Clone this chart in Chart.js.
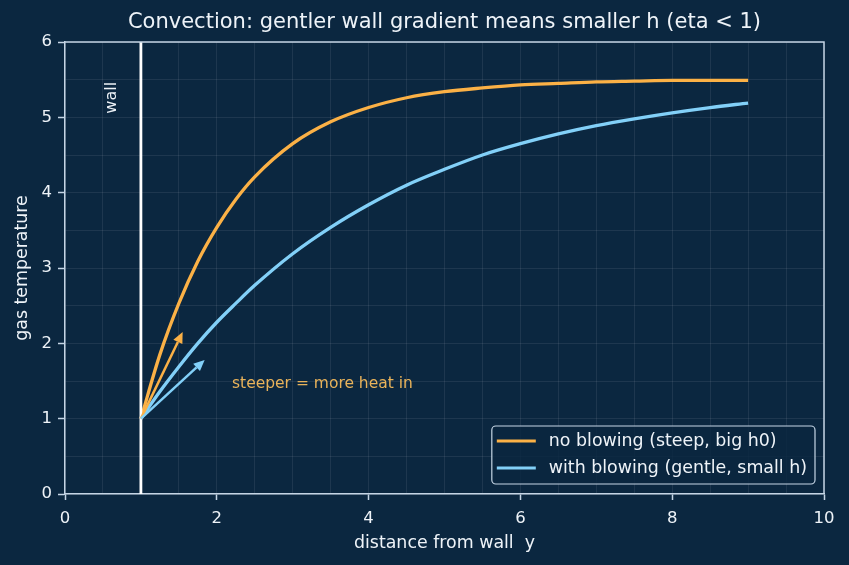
<!DOCTYPE html>
<html>
<head>
<meta charset="utf-8">
<script src="https://cdn.jsdelivr.net/npm/chart.js@4.4.1/dist/chart.umd.min.js"></script>
<style>
  html, body { margin: 0; padding: 0; background: #0b2740; }
  #wrap { width: 849px; height: 565px; }
</style>
</head>
<body>
<div id="wrap"><canvas id="chart" width="849" height="565"></canvas></div>
<script>
"use strict";

// Values.
const distance = [1, 1.25, 1.5, 1.75, 2, 2.25, 2.5, 3, 3.5, 4, 4.5, 5, 5.5, 6, 6.5, 7, 7.5, 8, 8.5, 9];
const noBlowing = [1.00, 1.85, 2.53, 3.09, 3.54, 3.91, 4.21, 4.65, 4.94, 5.13, 5.26, 5.34, 5.39, 5.43, 5.45, 5.47, 5.48, 5.49, 5.49, 5.49];
const withBlowing = [1.00, 1.36, 1.69, 2.00, 2.28, 2.53, 2.77, 3.19, 3.54, 3.84, 4.10, 4.31, 4.50, 4.65, 4.78, 4.89, 4.98, 5.06, 5.13, 5.19];
const wallX = [1, 1];
const wallY = [0, 6];
const arrowStart = [1, 1];
const arrowTipSteep = [1.55, 2.15];
const arrowTipGentle = [1.84, 1.78];
const xTickLabels = [0, 2, 4, 6, 8, 10];
const yTickLabels = [0, 1, 2, 3, 4, 5, 6];

const TITLE = "Convection: gentler wall gradient means smaller h (eta < 1)";
const BG = "#0b2740";
const ORANGE = "#fbb146";
const BLUE = "#82d0f8";
const SPINE = "#c5d5e5";
const TEXT = "#eef3f8";
const GRID = "rgba(255,255,255,0.08)";
const FONT = "'DejaVu Sans', sans-serif";
const LABEL_PX = 17.4;

const toPts = (xs, ys) => xs.map((x, i) => ({ x, y: ys[i] }));

// Подложка, рамка, заголовок, стрелки, подписи и легенда.
const decor = {
  id: "decor",
  beforeDraw(chart) {
    const ctx = chart.ctx;
    ctx.save();
    ctx.fillStyle = BG;
    ctx.fillRect(0, 0, chart.width, chart.height);
    ctx.restore();
  },
  afterDatasetsDraw(chart) {
    const { ctx, chartArea: a, scales: { x, y } } = chart;
    ctx.save();

    // arrows from the wall point
    const drawArrow = (tip, color) => {
      const x0 = x.getPixelForValue(arrowStart[0]), y0 = y.getPixelForValue(arrowStart[1]);
      const x1 = x.getPixelForValue(tip[0]), y1 = y.getPixelForValue(tip[1]);
      const ang = Math.atan2(y1 - y0, x1 - x0);
      const head = 11, half = 5;
      const bx = x1 - head * Math.cos(ang), by = y1 - head * Math.sin(ang);
      ctx.strokeStyle = color;
      ctx.fillStyle = color;
      ctx.lineWidth = 2.5;
      ctx.beginPath();
      ctx.moveTo(x0, y0);
      ctx.lineTo(bx, by);
      ctx.stroke();
      ctx.beginPath();
      ctx.moveTo(x1, y1);
      ctx.lineTo(bx + half * Math.sin(ang), by - half * Math.cos(ang));
      ctx.lineTo(bx - half * Math.sin(ang), by + half * Math.cos(ang));
      ctx.closePath();
      ctx.fill();
    };
    drawArrow(arrowTipSteep, ORANGE);
    drawArrow(arrowTipGentle, BLUE);

    // annotation text
    ctx.font = "15.5px " + FONT;
    ctx.fillStyle = "#e9b35a";
    ctx.textAlign = "left";
    ctx.textBaseline = "middle";
    ctx.fillText("steeper = more heat in", x.getPixelForValue(2.2), y.getPixelForValue(1.46));

    // "wall" label, rotated
    ctx.save();
    ctx.font = "16px " + FONT;
    ctx.translate(x.getPixelForValue(0.62), y.getPixelForValue(5.26));
    ctx.rotate(-Math.PI / 2);
    ctx.fillStyle = TEXT;
    ctx.textAlign = "center";
    ctx.fillText("wall", 0, 0);
    ctx.restore();

    // top & right spines
    ctx.strokeStyle = SPINE;
    ctx.lineWidth = 1.5;
    ctx.beginPath();
    ctx.moveTo(a.left, a.top);
    ctx.lineTo(a.right, a.top);
    ctx.lineTo(a.right, a.bottom);
    ctx.stroke();

    // title centred over the plot area
    ctx.font = "21px " + FONT;
    ctx.fillStyle = TEXT;
    ctx.textAlign = "center";
    ctx.textBaseline = "middle";
    ctx.fillText(TITLE, (a.left + a.right) / 2, 23);

    // legend box in lower right
    const items = chart.data.datasets.filter((d) => d.label);
    ctx.font = LABEL_PX + "px " + FONT;
    const textW = Math.max(...items.map((d) => ctx.measureText(d.label).width));
    const rowH = 27;
    const w = 5 + 39 + 13 + textW + 8;
    const h = items.length * rowH + 4;
    const bx = a.right - 9 - w, by = a.bottom - 10 - h;
    ctx.fillStyle = "rgba(11,39,64,0.85)";
    ctx.strokeStyle = SPINE;
    ctx.lineWidth = 1.2;
    ctx.beginPath();
    ctx.roundRect(bx, by, w, h, 4);
    ctx.fill();
    ctx.stroke();
    items.forEach((d, i) => {
      const cy = by + 15 + i * rowH;
      ctx.strokeStyle = d.borderColor;
      ctx.lineWidth = 3;
      ctx.beginPath();
      ctx.moveTo(bx + 5, cy);
      ctx.lineTo(bx + 44, cy);
      ctx.stroke();
      ctx.fillStyle = TEXT;
      ctx.textAlign = "left";
      ctx.textBaseline = "middle";
      ctx.fillText(d.label, bx + 57, cy);
    });
    ctx.restore();
  },
};

const isLabel = (v, list) => list.some((t) => Math.abs(t - v) < 1e-9);

new Chart(document.getElementById("chart"), {
  type: "line",
  data: {
    datasets: [
      {
        data: toPts(wallX, wallY),
        borderColor: "#ffffff",
        borderWidth: 2.8,
        pointRadius: 0,
        tension: 0,
      },
      {
        label: "no blowing (steep, big h0)",
        data: toPts(distance, noBlowing),
        borderColor: ORANGE,
        borderWidth: 3.3,
        pointRadius: 0,
        cubicInterpolationMode: "monotone",
      },
      {
        label: "with blowing (gentle, small h)",
        data: toPts(distance, withBlowing),
        borderColor: BLUE,
        borderWidth: 3.3,
        pointRadius: 0,
        cubicInterpolationMode: "monotone",
      },
    ],
  },
  options: {
    responsive: false,
    animation: false,
    devicePixelRatio: 1,
    layout: { padding: { top: 42, right: 25, left: 0, bottom: 0 } },
    plugins: { legend: { display: false }, title: { display: false }, tooltip: { enabled: false } },
    scales: {
      x: {
        type: "linear",
        min: 0, max: 10,
        afterFit: (s) => { s.height = 71; },
        ticks: {
          stepSize: 0.5,
          autoSkip: false,
          maxRotation: 0,
          color: TEXT,
          padding: 9,
          font: { family: FONT, size: 16.5 },
          callback: (v) => (isLabel(v, xTickLabels) ? String(v) : ""),
        },
        grid: {
          color: GRID,
          tickLength: 6,
          tickWidth: 1.5,
          tickColor: (c) => (isLabel(c.tick.value, xTickLabels) ? SPINE : "rgba(0,0,0,0)"),
        },
        border: { display: true, color: SPINE, width: 1.5 },
        title: {
          display: true,
          text: "distance from wall  y",
          color: TEXT,
          font: { family: FONT, size: LABEL_PX },
          padding: { top: 0, bottom: 11.5 },
        },
      },
      y: {
        type: "linear",
        min: 0, max: 6,
        afterFit: (s) => { s.width = 65; },
        ticks: {
          stepSize: 0.5,
          autoSkip: false,
          color: TEXT,
          padding: 6,
          font: { family: FONT, size: 16.5 },
          callback: (v) => (isLabel(v, yTickLabels) ? String(v) : ""),
        },
        grid: {
          color: GRID,
          tickLength: 7,
          tickWidth: 1.5,
          tickColor: (c) => (isLabel(c.tick.value, yTickLabels) ? SPINE : "rgba(0,0,0,0)"),
        },
        border: { display: true, color: SPINE, width: 1.5 },
        title: {
          display: true,
          text: "gas temperature",
          color: TEXT,
          font: { family: FONT, size: LABEL_PX },
          padding: { top: 12.5, bottom: 0 },
        },
      },
    },
  },
  plugins: [decor],
});
</script>
</body>
</html>
